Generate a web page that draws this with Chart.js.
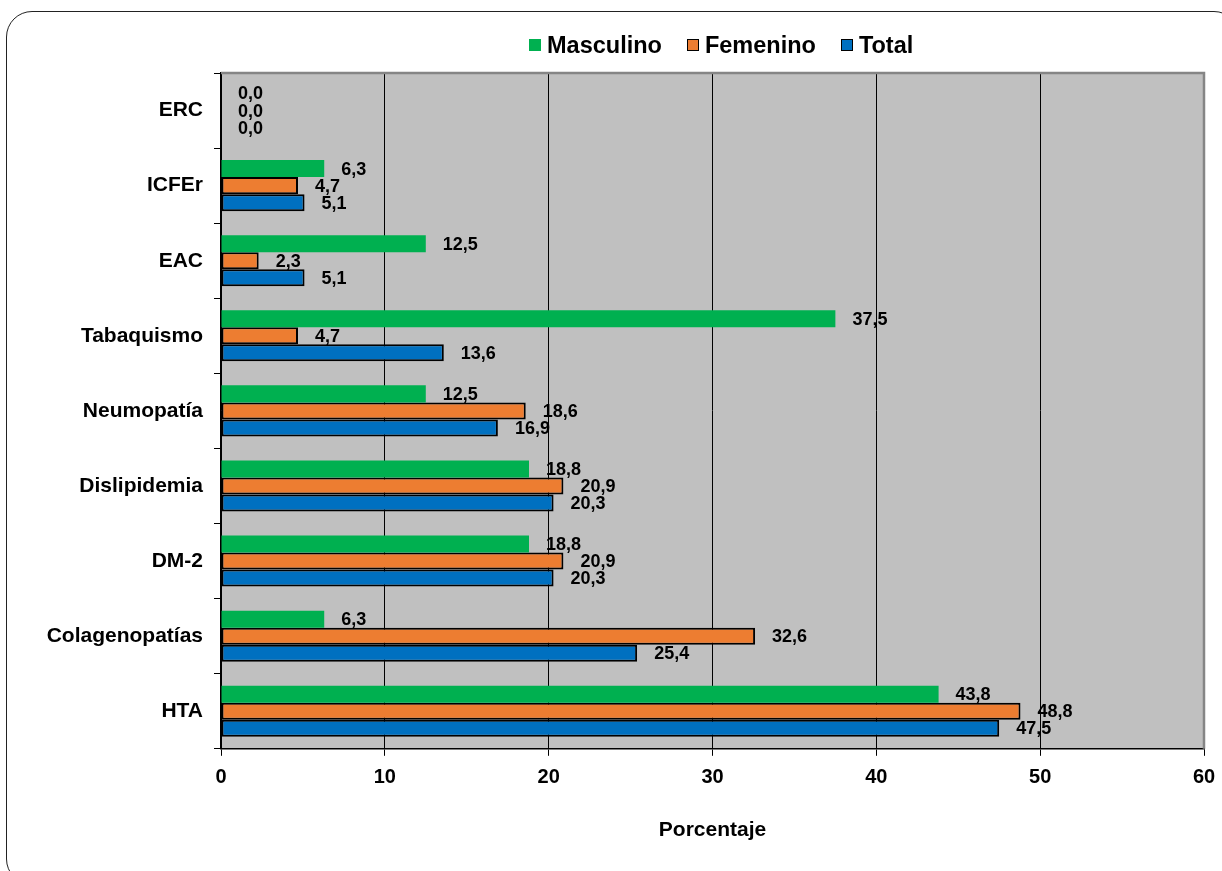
<!DOCTYPE html>
<html lang="es">
<head>
<meta charset="utf-8">
<title>Comorbilidades por sexo</title>
<script src="https://cdn.jsdelivr.net/npm/chart.js@4.4.1/dist/chart.umd.min.js"></script>
<style>
  html, body { margin: 0; padding: 0; background: #fff; overflow: hidden; }
  body { width: 1222px; height: 871px; position: relative; font-family: "Liberation Sans", Arial, sans-serif; }
  #marco {
    position: absolute; left: 6px; top: 11px; width: 1232px; height: 872px;
    border: 1.5px solid #222; border-radius: 26px;
  }
  #grafico { position: absolute; left: 0; top: 0; }
  #leyenda {
    position: absolute; left: 529px; top: 31px; height: 28px;
    display: flex; align-items: center; font-weight: bold; font-size: 23.5px; color: #000;
  }
  #leyenda .item { display: flex; align-items: center; margin-right: 25px; }
  #leyenda .caja { width: 12px; height: 12px; box-sizing: border-box; margin-right: 6px; }
</style>
</head>
<body>
<div id="marco"></div>
<canvas id="grafico" width="1222" height="871"></canvas>
<div id="leyenda"></div>
<script>
// datos
var categorias = ["ERC", "ICFEr", "EAC", "Tabaquismo", "Neumopatía", "Dislipidemia", "DM-2", "Colagenopatías", "HTA"];
var masculino = [0.0, 6.3, 12.5, 37.5, 12.5, 18.8, 18.8, 6.3, 43.8];
var femenino = [0.0, 4.7, 2.3, 4.7, 18.6, 20.9, 20.9, 32.6, 48.8];
var total = [0.0, 5.1, 5.1, 13.6, 16.9, 20.3, 20.3, 25.4, 47.5];
var ticksX = [0, 10, 20, 30, 40, 50, 60];

var fuente = "'Liberation Sans', Arial, sans-serif";

function formato(v) {
  return v.toFixed(1).replace(".", ",");
}

// fondo gris del área de trazado y marco gris arriba/derecha
var fondoPlot = {
  id: "fondoPlot",
  beforeDraw: function (chart) {
    var a = chart.chartArea, ctx = chart.ctx;
    ctx.save();
    ctx.fillStyle = "#c0c0c0";
    ctx.fillRect(a.left, a.top, a.right - a.left, a.bottom - a.top);
    ctx.restore();
  },
  beforeDatasetsDraw: function (chart) {
    var a = chart.chartArea, ctx = chart.ctx;
    ctx.save();
    ctx.strokeStyle = "#858585";
    ctx.lineWidth = 2.5;
    ctx.beginPath();
    ctx.moveTo(a.left, a.top);
    ctx.lineTo(a.right, a.top);
    ctx.lineTo(a.right, a.bottom);
    ctx.stroke();
    ctx.restore();
  }
};

// etiquetas de valor a la derecha de cada barra
var etiquetas = {
  id: "etiquetas",
  afterDatasetsDraw: function (chart) {
    var ctx = chart.ctx;
    ctx.save();
    ctx.font = "bold 18px " + fuente;
    ctx.fillStyle = "#000";
    ctx.textAlign = "left";
    ctx.textBaseline = "middle";
    chart.data.datasets.forEach(function (ds, i) {
      var meta = chart.getDatasetMeta(i);
      meta.data.forEach(function (bar, j) {
        ctx.fillText(formato(ds.data[j]), bar.x + 17, bar.y + 1);
      });
    });
    ctx.restore();
  }
};

var ctx = document.getElementById("grafico").getContext("2d");
var myChart = new Chart(ctx, {
  type: "bar",
  data: {
    labels: categorias,
    datasets: [
      {
        label: "Masculino",
        data: masculino,
        backgroundColor: "#00b050",
        borderWidth: 0,
      },
      {
        label: "Femenino",
        data: femenino,
        backgroundColor: "#ed7d31",
        borderColor: "#000",
        borderWidth: 2,
        borderSkipped: false,
      },
      {
        label: "Total",
        data: total,
        backgroundColor: "#0070c0",
        borderColor: "#000",
        borderWidth: 2,
        borderSkipped: false,
      },
    ],
  },
  options: {
    indexAxis: "y",
    responsive: false,
    animation: false,
    barPercentage: 1,
    categoryPercentage: 0.68,
    layout: {
      padding: { top: 73, right: 18, bottom: 28, left: 0 },
    },
    plugins: {
      legend: { display: false },
      tooltip: { enabled: false },
    },
    scales: {
      x: {
        min: 0,
        max: 60,
        afterBuildTicks: function (scale) {
          scale.ticks = ticksX.map(function (v) { return { value: v }; });
        },
        afterFit: function (scale) {
          // el "60" cabe en el margen derecho
          scale.paddingRight = 0;
          scale.paddingLeft = 0;
        },
        grid: {
          color: function (c) {
            return c.tick && c.tick.value === 60 ? "rgba(0,0,0,0)" : "#000";
          },
          tickColor: "#000",
          lineWidth: 1,
          tickLength: 7,
        },
        border: { color: "#000", width: 1.5 },
        ticks: {
          color: "#000",
          padding: 10,
          font: { family: fuente, size: 20, weight: "bold" },
        },
        title: {
          display: true,
          text: "Porcentaje",
          color: "#000",
          padding: { top: 18, bottom: 0 },
          font: { family: fuente, size: 21, weight: "bold" },
        },
      },
      y: {
        afterFit: function (scale) {
          scale.width = 221;
        },
        grid: {
          drawOnChartArea: false,
          color: "#000",
          tickLength: 7,
          lineWidth: 1,
        },
        border: { color: "#000", width: 1.5 },
        ticks: {
          color: "#000",
          padding: 11,
          font: { family: fuente, size: 21, weight: "bold" },
        },
      },
    },
  },
  plugins: [fondoPlot, etiquetas],
});

// leyenda
var leyenda = document.getElementById("leyenda");
myChart.data.datasets.forEach(function (ds) {
  var item = document.createElement("div");
  item.className = "item";
  var caja = document.createElement("span");
  caja.className = "caja";
  caja.style.background = ds.backgroundColor;
  if (ds.borderWidth) caja.style.border = "1.5px solid #000";
  var texto = document.createElement("span");
  texto.textContent = ds.label;
  item.appendChild(caja);
  item.appendChild(texto);
  leyenda.appendChild(item);
});
</script>
</body>
</html>
